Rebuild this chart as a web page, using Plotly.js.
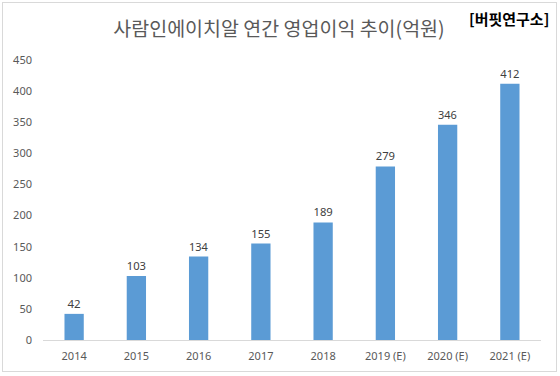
<!DOCTYPE html>
<html>
<head>
<meta charset="utf-8">
<script src="https://cdn.plot.ly/plotly-3.0.1.min.js"></script>
<style>
html,body{margin:0;padding:0;background:#fff;}
#wrap{position:relative;width:560px;height:376px;}
#chart{position:absolute;left:0;top:0;width:560px;height:376px;}
#frame{position:absolute;left:2px;top:2px;width:553px;height:368px;border:1px solid #d9d9d9;pointer-events:none;}
</style>
</head>
<body>
<div id="wrap"><div id="chart"></div><div id="frame"></div></div>
<script>
const categories = ['2014','2015','2016','2017','2018','2019 (E)','2020 (E)','2021 (E)'];
const profits = [42, 103, 134, 155, 189, 279, 346, 412];
const yTicks = [0,50,100,150,200,250,300,350,400,450];

const trace = {
  type: 'bar',
  x: categories,
  y: profits,
  marker: {color: '#5b9bd5'},
  text: profits.map(String),
  textposition: 'outside',
  textfont: {family: 'Noto Sans, sans-serif', size: 11.5, color: '#404040'},
  cliponaxis: false,
  hoverinfo: 'none'
};

const layout = {
  width: 560, height: 376,
  margin: {l: 43, r: 19.4, t: 60, b: 36, pad: 0},
  paper_bgcolor: '#ffffff',
  plot_bgcolor: '#ffffff',
  showlegend: false,
  bargap: 0.69,
  title: {
    text: '사람인에이치알 연간 영업이익 추이(억원)',
    font: {family: 'Noto Sans CJK KR, sans-serif', size: 19.5, color: '#595959'},
    x: 279/560, xref: 'container', xanchor: 'center',
    y: 1 - 29/376, yref: 'container', yanchor: 'middle'
  },
  xaxis: {
    type: 'category',
    showgrid: false,
    showline: true, linecolor: '#d9d9d9', linewidth: 1,
    ticks: '', ticklabelstandoff: 6,
    tickfont: {family: 'Noto Sans, sans-serif', size: 11, color: '#595959'},
    fixedrange: true
  },
  yaxis: {
    range: [0, 450],
    tickvals: yTicks,
    ticktext: yTicks.map(String),
    showgrid: false, zeroline: false, showline: false,
    ticks: '', ticklabelstandoff: 10,
    tickfont: {family: 'Noto Sans, sans-serif', size: 11, color: '#595959'},
    fixedrange: true
  },
  annotations: [{
    text: '<b>[버핏연구소]</b>',
    xref: 'paper', yref: 'paper',
    x: (550.5 - 43) / 497.6, xanchor: 'right',
    y: 1 + (60 - 18) / 280, yanchor: 'middle',
    showarrow: false,
    font: {family: 'Noto Sans CJK KR, sans-serif', size: 15, color: '#000000'}
  }]
};

Plotly.newPlot('chart', [trace], layout, {displayModeBar: false, staticPlot: true});
</script>
</body>
</html>
